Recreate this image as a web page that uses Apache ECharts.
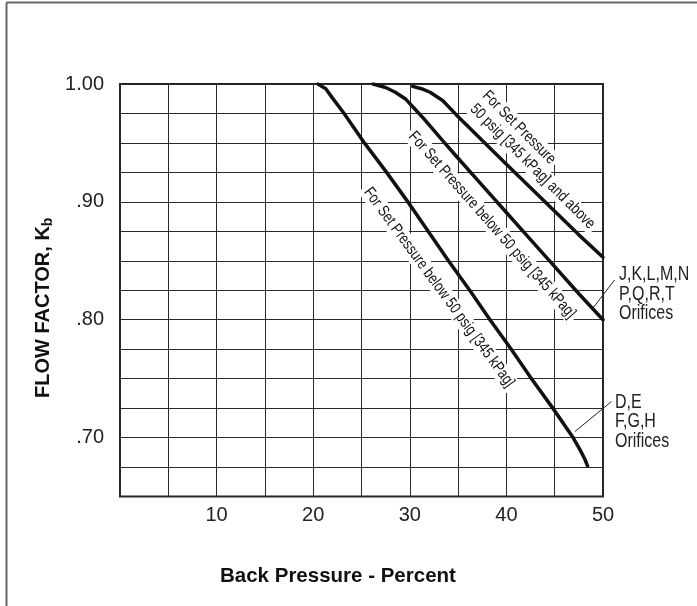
<!DOCTYPE html>
<html>
<head>
<meta charset="utf-8">
<script src="https://cdn.jsdelivr.net/npm/echarts@6/dist/echarts.min.js"></script>
<style>
  html, body { margin: 0; padding: 0; background: #fff; }
  #chart { width: 697px; height: 606px; }
</style>
</head>
<body>
<div id="chart"></div>
<script>
// D,E,F,G,H orifices, set pressure below 50 psig
var dfghBack = [20.5, 21.3, 22.0, 23.2, 25.3, 27.6, 29.8, 31.9, 34.0, 36.2, 38.3, 40.5, 42.6, 44.8, 46.9, 47.6, 48.1, 48.4];
var dfghKb   = [1.000, 0.996, 0.988, 0.975, 0.950, 0.925, 0.900, 0.875, 0.850, 0.825, 0.800, 0.775, 0.750, 0.725, 0.700, 0.690, 0.682, 0.676];

// J..T orifices, set pressure below 50 psig
var jtBelowBack = [26.2, 27.5, 28.5, 29.6, 30.5, 31.4, 33.4, 35.0, 37.5, 40.0, 42.5, 45.0, 47.5, 50.0];
var jtBelowKb   = [1.000, 0.997, 0.993, 0.987, 0.979, 0.971, 0.952, 0.937, 0.914, 0.891, 0.868, 0.845, 0.822, 0.800];

// J..T orifices, set pressure 50 psig and above
var jtAboveBack = [30.3, 31.2, 32.1, 33.4, 34.8, 37.5, 40.0, 42.5, 45.0, 47.5, 50.0];
var jtAboveKb   = [0.998, 0.996, 0.993, 0.986, 0.974, 0.952, 0.932, 0.912, 0.892, 0.872, 0.853];

var xTickLabels = [10, 20, 30, 40, 50];
var yTickLabels = { '0.7': '.70', '0.8': '.80', '0.9': '.90', '1': '1.00' };

function pairs(xs, ys) {
    return xs.map(function (x, i) { return [x, ys[i]]; });
}

var font = "'Liberation Sans', Arial, sans-serif";

var myChart = echarts.init(document.getElementById('chart'));

var curveLine = function (name, data) {
    return {
        name: name,
        type: 'line',
        data: data,
        showSymbol: false,
        smooth: false,
        lineStyle: { color: '#111', width: 3.5, join: 'round', cap: 'round' },
        z: 3
    };
};

// no narrow face installed, so squeeze a regular one sideways
var labelText = function (x, y, deg, text) {
    return {
        type: 'text',
        x: x, y: y,
        rotation: -deg * Math.PI / 180,
        scaleX: 0.8,
        z: 1,
        style: {
            text: text,
            font: '16px ' + font,
            fill: '#111',
            align: 'center',
            verticalAlign: 'middle',
            backgroundColor: '#fff',
            padding: [1, 4]
        }
    };
};

var option = {
    animation: false,
    grid: {
        left: 120, top: 84, width: 483, height: 412.5,
        show: true, borderColor: '#222', borderWidth: 2, backgroundColor: 'transparent'
    },
    xAxis: {
        type: 'value',
        min: 0, max: 50, interval: 5,
        axisLine: { show: false },
        axisTick: { show: false },
        splitLine: { show: true, lineStyle: { color: '#2a2a2a', width: 1 } },
        axisLabel: {
            margin: 9,
            fontSize: 20, fontFamily: font, color: '#222',
            formatter: function (v) { return xTickLabels.indexOf(v) >= 0 ? String(v) : ''; }
        }
    },
    yAxis: {
        type: 'value',
        min: 0.65, max: 1.0, interval: 0.025,
        axisLine: { show: false },
        axisTick: { show: false },
        splitLine: { show: true, lineStyle: { color: '#2a2a2a', width: 1 } },
        axisLabel: {
            margin: 16,
            fontSize: 20, fontFamily: font, color: '#222',
            formatter: function (v) {
                var k = String(Math.round(v * 1000) / 1000);
                return yTickLabels[k] || '';
            }
        }
    },
    series: [
        curveLine('D,E F,G,H', pairs(dfghBack, dfghKb)),
        curveLine('J-T below 50 psig', pairs(jtBelowBack, jtBelowKb)),
        curveLine('J-T 50 psig and above', pairs(jtAboveBack, jtAboveKb))
    ],
    graphic: [
        // page frame (left and top edges only)
        { type: 'line', shape: { x1: 6.5, y1: 2.5, x2: 697, y2: 2.5 }, style: { stroke: '#666', lineWidth: 2 } },
        { type: 'line', shape: { x1: 6.5, y1: 2.5, x2: 6.5, y2: 606 }, style: { stroke: '#666', lineWidth: 2 } },

        labelText(439, 287.5, 53.7, 'For Set Pressure below 50 psig [345 kPag]'),
        labelText(492, 225, 48.5, 'For Set Pressure below 50 psig [345 kPag]'),
        labelText(519, 127.5, 45, 'For Set Pressure'),
        labelText(532.5, 166.5, 45, '50 psig [345 kPag] and above'),

        { type: 'line', shape: { x1: 614.5, y1: 280, x2: 591.5, y2: 310 }, style: { stroke: '#222', lineWidth: 1 } },
        { type: 'line', shape: { x1: 611.5, y1: 401.5, x2: 575, y2: 431.5 }, style: { stroke: '#222', lineWidth: 1 } },
        {
            type: 'text', x: 619, y: 294, scaleX: 0.8,
            style: { text: 'J,K,L,M,N\nP,Q,R,T\nOrifices', font: '20px ' + font, fill: '#222',
                     align: 'left', verticalAlign: 'middle', lineHeight: 19.5 }
        },
        {
            type: 'text', x: 615, y: 421.5, scaleX: 0.8,
            style: { text: 'D,E\nF,G,H\nOrifices', font: '20px ' + font, fill: '#222',
                     align: 'left', verticalAlign: 'middle', lineHeight: 19.5 }
        },

        // axis titles
        {
            type: 'text', x: 43, y: 398, rotation: Math.PI / 2,
            style: {
                text: 'FLOW FACTOR, K{sub|b}',
                font: 'bold 20px ' + font, fill: '#111',
                align: 'left', verticalAlign: 'middle',
                rich: { sub: { font: 'bold 14px ' + font, fill: '#111', padding: [10, 0, 0, 0] } }
            }
        },
        {
            type: 'text', x: 220, y: 576,
            style: { text: 'Back Pressure - Percent', font: 'bold 20.5px ' + font, fill: '#111',
                     align: 'left', verticalAlign: 'middle' }
        }
    ]
};

myChart.setOption(option);
</script>
</body>
</html>
